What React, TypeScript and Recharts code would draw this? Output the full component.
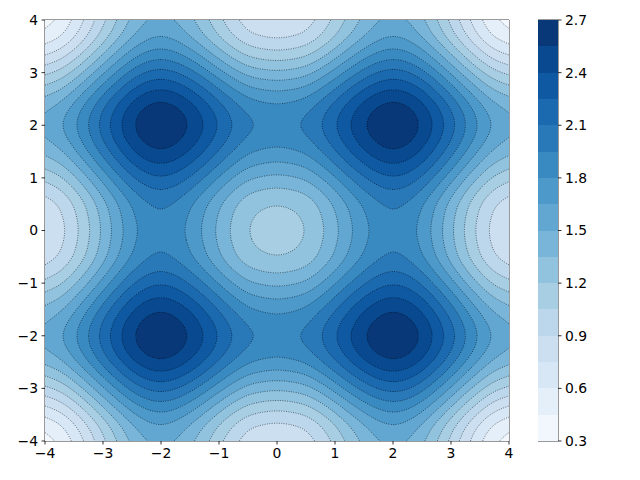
import React from 'react';
import { ScatterChart, Scatter, XAxis, YAxis, ReferenceArea } from 'recharts';

const xTicks = [-4, -3, -2, -1, 0, 1, 2, 3, 4];
const yTicks = [-4, -3, -2, -1, 0, 1, 2, 3, 4];

// band edges of the filled contours and the Blues colour of each band
const levels = [0.3, 0.45, 0.6, 0.75, 0.9, 1.05, 1.2, 1.35, 1.5, 1.65, 1.8, 1.95, 2.1, 2.25, 2.4, 2.55, 2.7];
const bandColors = [
  '#f1f7fd', '#e4eff9', '#d8e7f5', '#ccdff1', '#bcd7ec', '#a8cee4', '#91c3de', '#78b5d9',
  '#61a7d2', '#4c99ca', '#3a8ac2', '#2979b9', '#1b69af', '#0e59a2', '#084990', '#083877',
];
const colorbarTicks = [0.3, 0.6, 0.9, 1.2, 1.5, 1.8, 2.1, 2.4, 2.7];

// the surface is the sum of a column term and a row term, both read off the picture:
// z(x, y) = profile(x) + profile(y)
const profileX = [
  -4, -3.75, -3.5, -3.25, -3, -2.75, -2.5, -2.25, -2, -1.75, -1.5, -1.25, -1, -0.75, -0.5, -0.25,
  0, 0.25, 0.5, 0.75, 1, 1.25, 1.5, 1.75, 2, 2.25, 2.5, 2.75, 3, 3.25, 3.5, 3.75, 4,
];
const profile = [
  0.2, 0.285, 0.43, 0.615, 0.815, 1.01, 1.18, 1.295, 1.335, 1.293, 1.19, 1.05, 0.895, 0.75, 0.64, 0.588,
  0.57, 0.588, 0.64, 0.75, 0.895, 1.05, 1.19, 1.293, 1.335, 1.295, 1.18, 1.01, 0.815, 0.615, 0.43, 0.285, 0.2,
];

const PLOT_W = 464;
const PLOT_H = 421;
const XMIN = xTicks[0];
const XMAX = xTicks[xTicks.length - 1];
const YMIN = yTicks[0];
const YMAX = yTicks[yTicks.length - 1];
const FONT = { fill: '#000', fontSize: 13.9, fontFamily: 'DejaVu Sans' };
const TICK_LINE = { stroke: '#000', strokeWidth: 0.8 };

const minus = (v: number) => (v < 0 ? `\u2212${-v}` : `${v}`);

// natural cubic spline through the profile samples, for a smooth reading between them
const splineM = (() => {
  const n = profile.length;
  const h = profileX[1] - profileX[0];
  const m = new Array(n).fill(0);
  const c = new Array(n).fill(0);
  const d = new Array(n).fill(0);
  for (let i = 1; i < n - 1; i++) {
    const rhs = (6 / (h * h)) * (profile[i - 1] - 2 * profile[i] + profile[i + 1]);
    const denom = 4 - (i > 1 ? c[i - 1] : 0);
    c[i] = 1 / denom;
    d[i] = (rhs - (i > 1 ? d[i - 1] : 0)) / denom;
  }
  for (let i = n - 2; i >= 1; i--) m[i] = d[i] - c[i] * m[i + 1];
  return m;
})();

function profileAt(v: number) {
  const h = profileX[1] - profileX[0];
  const i = Math.max(0, Math.min(profile.length - 2, Math.floor((v - profileX[0]) / h)));
  const a = profileX[i + 1] - v;
  const b = v - profileX[i];
  return (
    (splineM[i] * a * a * a) / (6 * h) +
    (splineM[i + 1] * b * b * b) / (6 * h) +
    ((profile[i] - (splineM[i] * h * h) / 6) * a) / h +
    ((profile[i + 1] - (splineM[i + 1] * h * h) / 6) * b) / h
  );
}

function bandOf(z: number) {
  let k = 0;
  while (k < bandColors.length - 1 && z >= levels[k + 1]) k++;
  return k;
}

// filled bands: one run per row of pixels per band
function buildRuns() {
  const cols = PLOT_W;
  const rows = PLOT_H;
  const dx = (XMAX - XMIN) / cols;
  const dy = (YMAX - YMIN) / rows;
  const colZ = Array.from({ length: cols }, (_, c) => profileAt(XMIN + (c + 0.5) * dx));
  const runs: { x: number; y: number; w: number; h: number; band: number }[] = [];
  for (let r = 0; r < rows; r++) {
    const y = YMAX - (r + 0.5) * dy;
    const rz = profileAt(y);
    let start = 0;
    let band = bandOf(colZ[0] + rz);
    for (let c = 1; c <= cols; c++) {
      const b = c < cols ? bandOf(colZ[c] + rz) : -1;
      if (b !== band) {
        const x0 = XMIN + start * dx;
        const x1 = XMIN + c * dx;
        runs.push({ x: (x0 + x1) / 2, y, w: x1 - x0, h: dy, band });
        start = c;
        band = b;
      }
    }
  }
  return runs;
}

// contour lines by marching squares, joined into polylines
function buildContours() {
  const N = 128;
  const nodes = Array.from({ length: N + 1 }, (_, i) => XMIN + (i * (XMAX - XMIN)) / N);
  const nodeP = nodes.map(profileAt);
  const val = (i: number, j: number) => nodeP[i] + nodeP[j];
  const chains: { x: number; y: number }[][] = [];

  levels.forEach((L) => {
    const pts = new Map<string, { x: number; y: number }>();
    const segs: [string, string][] = [];
    const edge = (key: string, i1: number, j1: number, i2: number, j2: number) => {
      if (!pts.has(key)) {
        const v1 = val(i1, j1);
        const v2 = val(i2, j2);
        const t = (L - v1) / (v2 - v1);
        pts.set(key, {
          x: nodes[i1] + t * (nodes[i2] - nodes[i1]),
          y: nodes[j1] + t * (nodes[j2] - nodes[j1]),
        });
      }
      return key;
    };
    for (let i = 0; i < N; i++) {
      for (let j = 0; j < N; j++) {
        const a = val(i, j) >= L;
        const b = val(i + 1, j) >= L;
        const c = val(i + 1, j + 1) >= L;
        const d = val(i, j + 1) >= L;
        const bottom = a !== b ? edge(`h${i}_${j}`, i, j, i + 1, j) : null;
        const right = b !== c ? edge(`v${i + 1}_${j}`, i + 1, j, i + 1, j + 1) : null;
        const top = d !== c ? edge(`h${i}_${j + 1}`, i, j + 1, i + 1, j + 1) : null;
        const left = a !== d ? edge(`v${i}_${j}`, i, j, i, j + 1) : null;
        const crossed = [bottom, right, top, left].filter((k) => k !== null) as string[];
        if (crossed.length === 2) {
          segs.push([crossed[0], crossed[1]]);
        } else if (crossed.length === 4) {
          const centre = (val(i, j) + val(i + 1, j) + val(i + 1, j + 1) + val(i, j + 1)) / 4 >= L;
          if (centre === a) {
            segs.push([bottom!, right!]);
            segs.push([top!, left!]);
          } else {
            segs.push([bottom!, left!]);
            segs.push([right!, top!]);
          }
        }
      }
    }
    const adj = new Map<string, number[]>();
    segs.forEach(([p, q], s) => {
      if (!adj.has(p)) adj.set(p, []);
      if (!adj.has(q)) adj.set(q, []);
      adj.get(p)!.push(s);
      adj.get(q)!.push(s);
    });
    const used = new Array(segs.length).fill(false);
    const walk = (startKey: string) => {
      const keys = [startKey];
      let key = startKey;
      for (;;) {
        const next = (adj.get(key) || []).find((s) => !used[s]);
        if (next === undefined) break;
        used[next] = true;
        key = segs[next][0] === key ? segs[next][1] : segs[next][0];
        keys.push(key);
      }
      return keys.map((k) => pts.get(k)!);
    };
    adj.forEach((list, key) => {
      if (list.length === 1 && !used[list[0]]) chains.push(walk(key));
    });
    segs.forEach((s, idx) => {
      if (!used[idx]) chains.push(walk(s[0]));
    });
  });
  return chains;
}

const runs = buildRuns();
const contours = buildContours();
const colorbarCells = bandColors.map((_, k) => ({
  x: 0.5,
  y: (levels[k] + levels[k + 1]) / 2,
  h: levels[k + 1] - levels[k],
  band: k,
}));

const RunShape = (props: any) => {
  const { cx, cy, payload } = props;
  const w = (payload.w * PLOT_W) / (XMAX - XMIN);
  const h = (payload.h * PLOT_H) / (YMAX - YMIN);
  return (
    <rect
      x={cx - w / 2}
      y={cy - h / 2}
      width={w}
      height={h}
      fill={bandColors[payload.band]}
      shapeRendering="crispEdges"
    />
  );
};

const ColorbarShape = (props: any) => {
  const { cx, cy, payload } = props;
  const w = 20;
  const h = (payload.h * PLOT_H) / (levels[levels.length - 1] - levels[0]);
  return (
    <rect x={cx - w / 2} y={cy - h / 2} width={w} height={h} fill={bandColors[payload.band]} shapeRendering="crispEdges" />
  );
};

const NoPoint = () => <g />;

export default function App() {
  return (
    <div style={{ position: 'absolute', left: 0, top: 0, width: 640, height: 480, background: '#fff' }}>
      <div style={{ position: 'absolute', left: 0, top: 0 }}>
        <ScatterChart width={520} height={480} margin={{ top: 20, right: 11, bottom: 0, left: 0 }}>
          <XAxis
            dataKey="x"
            type="number"
            domain={[XMIN, XMAX]}
            ticks={xTicks}
            interval={0}
            height={39}
            axisLine={false}
            tickLine={TICK_LINE}
            tickSize={3.5}
            tickMargin={3.5}
            tick={FONT}
            tickFormatter={minus}
          />
          <YAxis
            dataKey="y"
            type="number"
            domain={[YMIN, YMAX]}
            ticks={yTicks}
            interval={0}
            width={45}
            axisLine={false}
            tickLine={TICK_LINE}
            tickSize={3.5}
            tickMargin={3.5}
            tick={FONT}
            tickFormatter={minus}
          />
          <Scatter data={runs} shape={RunShape} isAnimationActive={false} />
          {contours.map((chain, i) => (
            <Scatter
              key={`c-${i}`}
              data={chain}
              shape={NoPoint}
              line={{ stroke: '#000', strokeWidth: 0.6, strokeDasharray: '1 1.4', strokeOpacity: 0.85 }}
              lineType="joint"
              isAnimationActive={false}
            />
          ))}
          <ReferenceArea x1={XMIN} x2={XMAX} y1={YMIN} y2={YMAX} fill="none" fillOpacity={0} stroke="#000" strokeWidth={0.8} />
        </ScatterChart>
      </div>
      <div style={{ position: 'absolute', left: 538, top: 0 }}>
        <ScatterChart width={100} height={480} margin={{ top: 20, right: 0, bottom: 39, left: 0 }}>
          <XAxis dataKey="x" type="number" domain={[0, 1]} hide />
          <YAxis
            dataKey="y"
            type="number"
            orientation="right"
            domain={[levels[0], levels[levels.length - 1]]}
            ticks={colorbarTicks}
            interval={0}
            width={80}
            axisLine={false}
            tickLine={TICK_LINE}
            tickSize={3.5}
            tickMargin={3.5}
            tick={FONT}
            tickFormatter={(v: number) => v.toFixed(1)}
          />
          <Scatter data={colorbarCells} shape={ColorbarShape} isAnimationActive={false} />
          <ReferenceArea
            x1={0}
            x2={1}
            y1={levels[0]}
            y2={levels[levels.length - 1]}
            fill="none"
            fillOpacity={0}
            stroke="#000"
            strokeWidth={0.8}
          />
        </ScatterChart>
      </div>
    </div>
  );
}
